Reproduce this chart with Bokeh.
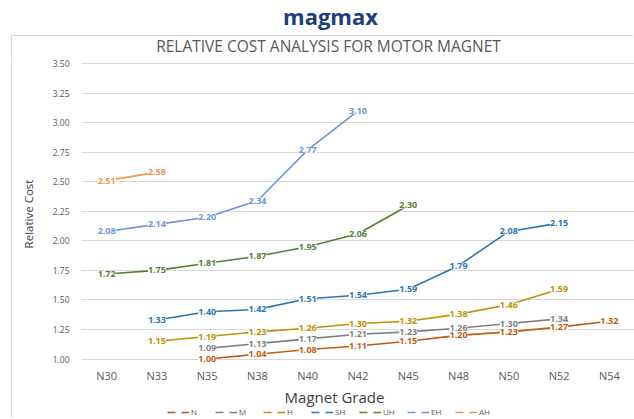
from bokeh.plotting import figure
from bokeh.layouts import column
from bokeh.core.properties import value
from bokeh.models import (ColumnDataSource, LabelSet, Label, Legend, LegendItem, FactorRange,
                          Range1d, FixedTicker, NumeralTickFormatter)
from bokeh.embed import file_html
from bokeh.resources import INLINE

grades = ["N30", "N33", "N35", "N38", "N40", "N42", "N45", "N48", "N50", "N52", "N54"]
n_vals = [None, None, 1.00, 1.04, 1.08, 1.11, 1.15, 1.20, 1.23, 1.27, 1.32]
m_vals = [None, None, 1.09, 1.13, 1.17, 1.21, 1.23, 1.26, 1.30, 1.34, None]
h_vals = [None, 1.15, 1.19, 1.23, 1.26, 1.30, 1.32, 1.38, 1.46, 1.59, None]
sh_vals = [None, 1.33, 1.40, 1.42, 1.51, 1.54, 1.59, 1.79, 2.08, 2.15, None]
uh_vals = [1.72, 1.75, 1.81, 1.87, 1.95, 2.06, 2.30, None, None, None, None]
eh_vals = [2.08, 2.14, 2.20, 2.34, 2.77, 3.10, None, None, None, None, None]
ah_vals = [2.51, 2.58, None, None, None, None, None, None, None, None, None]
series_names = ["N", "M", "H", "SH", "UH", "EH", "AH"]
series_vals = [n_vals, m_vals, h_vals, sh_vals, uh_vals, eh_vals, ah_vals]
y_ticks = [1.00, 1.25, 1.50, 1.75, 2.00, 2.25, 2.50, 2.75, 3.00, 3.25, 3.50]

colors = ["#C55A11", "#7F7F7F", "#BF9000", "#2E75B6", "#548235", "#6E94DC", "#F29650"]
FONT = "Open Sans"
BORDER = "#D9D9D9"
LEFT = 12      # chart box left edge on the page
FL = 69        # frame left inside each figure (page x = 81)


def strip(h, shadow=None):
    # a text-only figure whose x data units equal page pixels
    f = figure(width=634 - LEFT, height=h, output_backend="svg", toolbar_location=None,
               x_range=Range1d(LEFT + FL, 634), y_range=Range1d(0, h),
               x_axis_location=None, y_axis_location=None, title_location=None,
               margin=(0, 0, 0, LEFT),
               min_border_left=FL, min_border_right=0, min_border_top=0, min_border_bottom=0)
    f.outline_line_color = None
    f.grid.grid_line_color = None
    if shadow:
        f.styles = {"box-shadow": shadow}
    return f


# logo strip
H1 = 36
logo = strip(H1)
logo.add_layout(Label(x=330, y=H1 - 15, text="magmax", text_align="center",
                      text_baseline="middle", text_font=FONT, text_font_style="bold",
                      text_font_size="22px", text_color="#1B3F7A"))

# title strip (top of the chart box)
H2 = 22
ttl = strip(H2, "-1px -1px 0 " + BORDER)
ttl.add_layout(Label(x=328, y=H2 - 9, text="RELATIVE COST ANALYSIS FOR MOTOR MAGNET",
                     text_align="center", text_baseline="middle", text_font=FONT,
                     text_font_size="15.5px", text_color="#595959"))

# main chart
p = figure(width=634 - LEFT, height=327, output_backend="svg", toolbar_location=None,
           title_location=None, margin=(0, 0, 0, LEFT),
           x_range=FactorRange(factors=grades, start=0, end=10.97),
           y_range=Range1d(0.945, 3.51),
           min_border_left=FL, min_border_right=0, min_border_top=4, min_border_bottom=20)
p.styles = {"box-shadow": "-1px 0 0 " + BORDER}
p.outline_line_color = None
p.xgrid.grid_line_color = None
p.ygrid.grid_line_color = BORDER
p.ygrid.grid_line_width = 1

p.yaxis.ticker = FixedTicker(ticks=y_ticks)
p.yaxis.formatter = NumeralTickFormatter(format="0.00")
p.yaxis.axis_line_color = None
p.yaxis.major_tick_line_color = None
p.yaxis.minor_tick_line_color = None
p.yaxis.major_label_text_font = FONT
p.yaxis.major_label_text_font_size = "8.5px"
p.yaxis.major_label_text_color = "#595959"
p.yaxis.major_label_standoff = 6
p.yaxis.axis_label = "Relative Cost"
p.yaxis.axis_label_text_font = FONT
p.yaxis.axis_label_text_font_size = "11.5px"
p.yaxis.axis_label_text_font_style = "normal"
p.yaxis.axis_label_text_color = "#404040"
p.yaxis.axis_label_standoff = 14

p.xaxis.axis_line_color = None
p.xaxis.major_tick_line_color = None
p.xaxis.minor_tick_line_color = None
p.xaxis.major_label_text_font = FONT
p.xaxis.major_label_text_font_size = "11px"
p.xaxis.major_label_text_color = "#595959"
p.xaxis.major_label_standoff = -4

for name, vals, col in zip(series_names, series_vals, colors):
    xs = [g for g, v in zip(grades, vals) if v is not None]
    ys = [v for v in vals if v is not None]
    src = ColumnDataSource(dict(x=xs, y=ys, text=["%.2f" % v for v in ys]))
    p.line(x="x", y="y", source=src, line_color=col, line_width=1.6)
    p.add_layout(LabelSet(x="x", y="y", text="text", source=src, text_align="center",
                          text_baseline="middle", text_font=value(FONT),
                          text_font_size=value("9px"), text_font_style=value("bold"),
                          text_color=col,
                          background_fill_color="white", background_fill_alpha=1.0))

# footer: axis title and legend
H3 = 33
ft = strip(H3, "-1px 0 0 " + BORDER)
ft.add_layout(Label(x=334, y=H3 - 11, text="Magnet Grade", text_align="center",
                    text_baseline="middle", text_font=FONT, text_font_size="15px",
                    text_color="#404040"))
items = []
for name, col in zip(series_names, colors):
    dsrc = ColumnDataSource(dict(x=[300.0], y=[float("nan")]))
    r = ft.line(x="x", y="y", source=dsrc, line_color=col, line_width=1.6, line_dash="8 6")
    items.append(LegendItem(label=name, renderers=[r]))
legend = Legend(items=items, orientation="horizontal", location=(86, 1),
                label_text_font=FONT, label_text_font_size="8px", label_text_color="#595959",
                glyph_width=22, glyph_height=10, label_height=10, label_width=14,
                spacing=10, padding=1, margin=0, label_standoff=2,
                border_line_color=None, background_fill_alpha=0)
ft.add_layout(legend)

open("out.html", "w").write(file_html(column(logo, ttl, p, ft, spacing=0), INLINE))
